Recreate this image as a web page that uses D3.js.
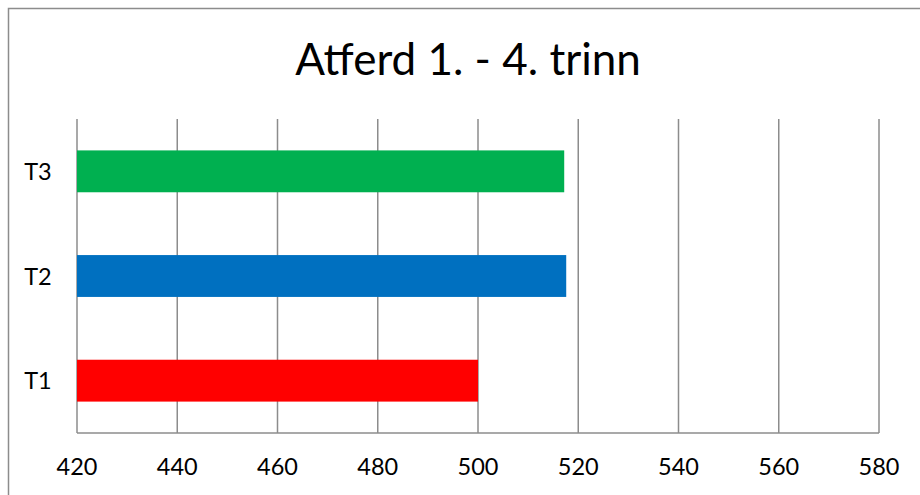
<!DOCTYPE html>
<html>
<head>
<meta charset="utf-8">
<script src="https://cdn.jsdelivr.net/npm/d3@7"></script>
<style>
  body { margin: 0; background: #fff; }
  text { font-family: Lato, "Open Sans", sans-serif; fill: #000; }
</style>
</head>
<body>
<svg id="chart" width="920" height="495"></svg>
<script>
// values
const categories = ["T1", "T2", "T3"];
const values = [500, 517.6, 517.2];
const barColors = ["#FF0000", "#0070C0", "#00B050"];
const xTicks = [420, 440, 460, 480, 500, 520, 540, 560, 580];
const chartTitle = "Atferd 1. - 4. trinn";

const svg = d3.select("#chart");
const plot = { left: 77, right: 879, top: 119, bottom: 433 };

// outer frame of the chart (cut off at right and bottom)
svg.append("rect")
    .attr("x", 8.5).attr("y", 8.5)
    .attr("width", 1000).attr("height", 1000)
    .attr("fill", "none")
    .attr("stroke", "#8c8c8c")
    .attr("stroke-width", 1.5);

svg.append("text")
    .attr("x", 468).attr("y", 75)
    .attr("text-anchor", "middle")
    .style("font-size", "44px")
    .text(chartTitle);

let x = d3.scaleLinear().domain([420, 580]).range([plot.left, plot.right]);
let y = d3.scaleBand().domain(categories.slice().reverse())
    .range([plot.top, plot.bottom]).paddingInner(0.6).paddingOuter(0.3);

// vertical gridlines
svg.append("g")
    .selectAll("line")
    .data(xTicks)
    .join("line")
    .attr("x1", d => x(d)).attr("x2", d => x(d))
    .attr("y1", plot.top).attr("y2", plot.bottom)
    .attr("stroke", "#8c8c8c")
    .attr("stroke-width", 1.5);

// bottom axis line
svg.append("line")
    .attr("x1", plot.left).attr("x2", plot.right)
    .attr("y1", plot.bottom).attr("y2", plot.bottom)
    .attr("stroke", "#8c8c8c")
    .attr("stroke-width", 1.5);

svg.append("g")
    .selectAll("rect")
    .data(categories)
    .join("rect")
    .attr("x", x(420))
    .attr("y", d => y(d))
    .attr("width", (d, i) => x(values[i]) - x(420))
    .attr("height", y.bandwidth())
    .attr("fill", (d, i) => barColors[i]);

// tick labels
svg.append("g")
    .selectAll("text")
    .data(xTicks)
    .join("text")
    .attr("x", d => x(d))
    .attr("y", 475)
    .attr("text-anchor", "middle")
    .style("font-size", "23.5px")
    .text(d => d);

svg.append("g")
    .selectAll("text")
    .data(categories)
    .join("text")
    .attr("x", 38)
    .attr("y", d => y(d) + y.bandwidth() / 2 + 8.5)
    .attr("text-anchor", "middle")
    .style("font-size", "23.5px")
    .text(d => d);
</script>
</body>
</html>
